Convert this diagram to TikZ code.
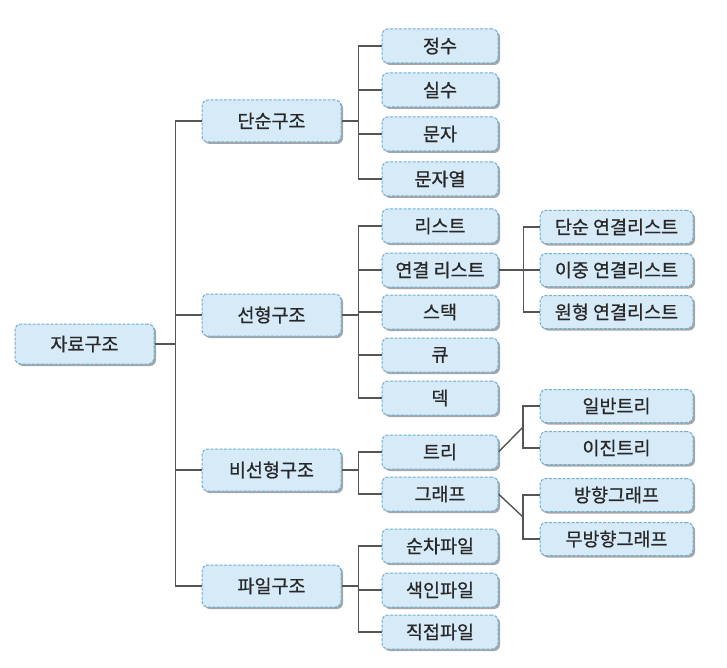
\documentclass[tikz,border=0pt]{standalone}
\usepackage{fontspec}
\setmainfont{Noto Sans CJK KR}[FakeBold=0.8]
\usepackage{xcolor}
\usepackage{tikz}
\usetikzlibrary{shadows, positioning}

\definecolor{boxfill}{RGB}{214,234,248}
\definecolor{boxline}{RGB}{110,175,210}
\definecolor{linkgray}{RGB}{85,85,85}
\definecolor{textgray}{RGB}{40,40,40}

\begin{document}
\begin{tikzpicture}[x=1pt, y=-1pt,
  box/.style={draw=boxline, dash pattern=on 3pt off 1.5pt, fill=boxfill,
    rounded corners=6pt, line width=1pt, text=textgray, inner sep=0pt,
    font=\fontsize{18.5}{21}\selectfont,
    drop shadow={shadow xshift=2pt, shadow yshift=-2pt, fill=black, opacity=0.35}},
  rootbox/.style={box, minimum width=139pt, minimum height=40pt},
  mainbox/.style={box, minimum width=139pt, minimum height=42pt},
  subbox/.style={box, minimum width=116pt, minimum height=34pt},
  leafbox/.style={box, minimum width=153pt, minimum height=33pt},
  link/.style={draw=linkgray, line width=1.4pt}]
\useasboundingbox (0,0) rectangle (727,668);
\fill[white] (0,0) rectangle (727,668);

\node[rootbox] (ds) at (84.5,344) {자료구조};

\node[mainbox] (simple) at (271.5,121) {단순구조};
\node[mainbox] (linear) at (271.5,315) {선형구조};
\node[mainbox] (nonlinear) at (271.5,470) {비선형구조};
\node[mainbox] (file) at (271.5,586) {파일구조};

\node[subbox] (int) at (440,46) {정수};
\node[subbox] (real) at (440,90) {실수};
\node[subbox] (char) at (440,134) {문자};
\node[subbox] (string) at (440,179) {문자열};
\node[subbox] (list) at (440,226) {리스트};
\node[subbox] (linked) at (440,270) {연결 리스트};
\node[subbox] (stack) at (440,312) {스택};
\node[subbox] (queue) at (440,355) {큐};
\node[subbox] (deque) at (440,398) {덱};
\node[subbox] (tree) at (440,452) {트리};
\node[subbox] (graph) at (440,494) {그래프};
\node[subbox] (seqfile) at (440,546) {순차파일};
\node[subbox] (idxfile) at (440,590) {색인파일};
\node[subbox] (directfile) at (440,632) {직접파일};

\node[leafbox] (single) at (616.5,227) {단순 연결리스트};
\node[leafbox] (double) at (616.5,270) {이중 연결리스트};
\node[leafbox] (circular) at (616.5,312) {원형 연결리스트};
\node[leafbox] (general) at (616.5,406) {일반트리};
\node[leafbox] (binary) at (616.5,448) {이진트리};
\node[leafbox] (directed) at (616.5,495) {방향그래프};
\node[leafbox] (undirected) at (616.5,539) {무방향그래프};

% connectors
\foreach \c in {simple,linear,nonlinear,file}
  \draw[link] (ds.east) -- ++(21,0) |- (\c.west);
\foreach \c in {int,real,char,string}
  \draw[link] (simple.east) -- ++(17,0) |- (\c.west);
\foreach \c in {list,linked,stack,queue,deque}
  \draw[link] (linear.east) -- ++(17,0) |- (\c.west);
\foreach \c in {tree,graph}
  \draw[link] (nonlinear.east) -- ++(17,0) |- (\c.west);
\foreach \c in {seqfile,idxfile,directfile}
  \draw[link] (file.east) -- ++(17,0) |- (\c.west);
\foreach \c in {single,double,circular}
  \draw[link] (linked.east) -- ++(25,0) |- (\c.west);

\coordinate (treefork) at (523,427);
\coordinate (graphfork) at (523,517);
\draw[link] (tree.east) -- (treefork);
\draw[link] (graph.east) -- (graphfork);
\foreach \c in {general,binary}
  \draw[link] (treefork) |- (\c.west);
\foreach \c in {directed,undirected}
  \draw[link] (graphfork) |- (\c.west);
\end{tikzpicture}
\end{document}
